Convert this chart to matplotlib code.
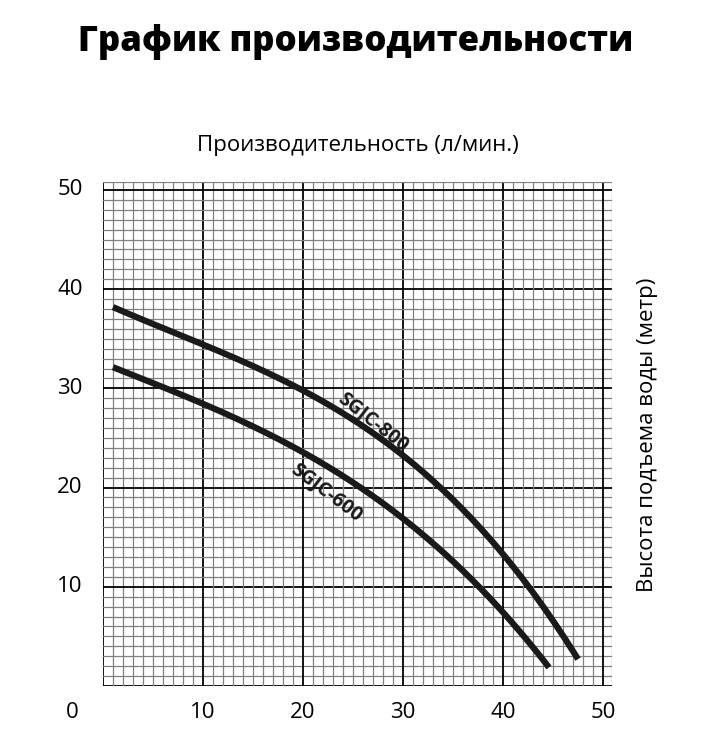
import matplotlib
matplotlib.use("Agg")
import matplotlib.pyplot as plt
import numpy as np

plt.rcParams['font.family'] = ['Open Sans', 'DejaVu Sans']

x800 = [1, 5, 10, 15, 20, 25, 30, 35, 40, 43, 45, 47.5]
y800 = [37.8, 36.7, 34.8, 32.6, 29.8, 26.4, 22.5, 18.4, 13.8, 10.4, 7.6, 1.2]
x600 = [1, 5, 10, 15, 20, 25, 30, 35, 40, 42.5, 44.6]
y600 = [32, 30.6, 28.6, 26.3, 23.5, 20.3, 16.6, 12.6, 7.9, 4.9, 1.3]
tick_vals = [10, 20, 30, 40, 50]

def smooth(xs, ys):
    p = np.polyfit(xs, ys, 3)
    xx = np.linspace(xs[0], xs[-1], 200)
    return xx, np.polyval(p, xx)

fig = plt.figure(figsize=(7.11, 7.49), dpi=100)
ax = fig.add_axes([103/711, 63/749, 509/711, 504/749])
ax.set_xlim(0, 50.9)
ax.set_ylim(0, 50.8)
for v in range(0, 51):
    major = v % 10 == 0
    c = 'black' if major else '#808080'
    lw = 1.3 if major else 0.9
    ax.axvline(v, color=c, lw=lw, zorder=1)
    ax.axhline(v, color=c, lw=lw, zorder=1)
ax.axvline(50.9, color='#808080', lw=0.9)
ax.axhline(50.8, color='#808080', lw=0.9)
for s in ax.spines.values():
    s.set_visible(False)
ax.set_xticks([]); ax.set_yticks([])

ax.plot(*smooth(x800, y800), color='#1a1a1a', lw=4.5, solid_capstyle='butt', zorder=3)
ax.plot(*smooth(x600, y600), color='#1a1a1a', lw=4.5, solid_capstyle='butt', zorder=3)
ax.text(27.0, 26.6, 'SGJC-800', rotation=-38, ha='center', va='center', fontsize=14,
        fontweight='bold', color='#1a1a1a', zorder=4)
ax.text(22.3, 19.5, 'SGJC-600', rotation=-37, ha='center', va='center', fontsize=14,
        fontweight='bold', color='#1a1a1a', zorder=4)

for v in tick_vals:
    ax.text(v, -2.7, str(v), ha='center', va='center', fontsize=16, clip_on=False)
    ax.text(-3.3, v, str(v), ha='center', va='center', fontsize=16, clip_on=False)
ax.text(-3.1, -2.7, '0', ha='center', va='center', fontsize=16, clip_on=False)

fig.text(0.5, 0.944, 'График производительности', ha='center', va='center',
         fontsize=25, fontweight='heavy')
fig.text(358/711, 1-145/749, 'Производительность (л/мин.)', ha='center', va='center', fontsize=16)
fig.text(648/711, 1-435/749, 'Высота подъема воды (метр)', ha='center', va='center',
         fontsize=16, rotation=90)
fig.savefig('out.png', dpi=100)
